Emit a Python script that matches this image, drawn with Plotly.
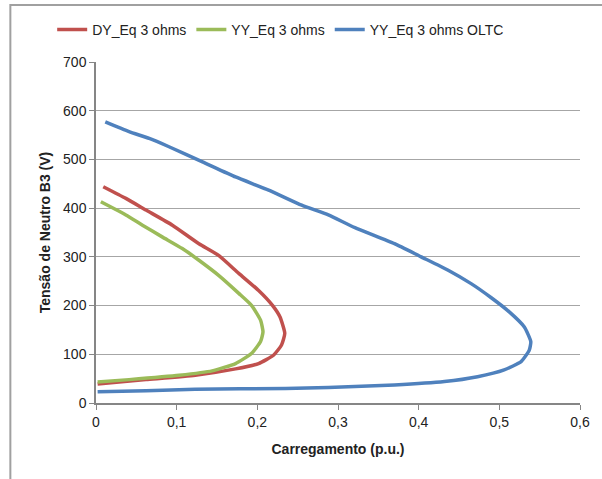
import plotly.graph_objects as go

# Series data (Carregamento p.u., Tensão V)
dy_x = [0.009, 0.037, 0.062, 0.0947, 0.1276, 0.152, 0.177, 0.2016, 0.219, 0.228, 0.234, 0.230, 0.220, 0.2016, 0.173, 0.123, 0.062, 0.002]
dy_y = [444, 420, 396, 365, 327, 303, 266, 231, 200, 177, 143, 119, 98, 81, 70, 57, 48, 39]

yy_x = [0.006, 0.037, 0.0576, 0.082, 0.107, 0.1276, 0.152, 0.177, 0.193, 0.204, 0.207, 0.204, 0.193, 0.173, 0.144, 0.103, 0.041, 0.002]
yy_y = [413, 386, 365, 341, 317, 293, 262, 225, 200, 170, 146, 126, 102, 81, 66, 57, 48, 43]

oltc_x = [0.0115, 0.041, 0.066, 0.0905, 0.132, 0.173, 0.214, 0.255, 0.288, 0.321, 0.37, 0.403, 0.436, 0.465, 0.49, 0.513, 0.531, 0.539, 0.537, 0.527, 0.506, 0.473, 0.432, 0.37, 0.288, 0.235, 0.123, 0.062, 0.002]
oltc_y = [577, 557, 543, 526, 495, 464, 437, 406, 386, 360, 327, 300, 273, 245, 216, 186, 156, 126, 108, 85, 68, 54, 44, 37, 32, 30, 28, 25, 23]

names = ["DY_Eq 3 ohms", "YY_Eq 3 ohms", "YY_Eq 3 ohms OLTC"]
colors = ["#C0504D", "#9BBB59", "#4F81BD"]

W, H = 602, 479
L, R, T, B = 96, 20, 62, 76

fig = go.Figure()
for xs, ys, n, c in zip([dy_x, yy_x, oltc_x], [dy_y, yy_y, oltc_y], names, colors):
    fig.add_trace(go.Scatter(x=xs, y=ys, mode="lines", name=n,
                             line=dict(color=c, width=3.5, shape="spline", smoothing=0.5)))

pw = W - L - R
ph = H - T - B

fig.update_layout(
    width=W, height=H,
    margin=dict(l=L, r=R, t=T, b=B),
    paper_bgcolor="white", plot_bgcolor="white",
    separators=",.",
    font=dict(family="Liberation Sans, Arial, sans-serif", size=14, color="#222222"),
    showlegend=True,
    legend=dict(orientation="h", x=(52 - L) / pw, xanchor="left",
                y=1 + (T - 14) / ph, yanchor="top",
                font=dict(size=14), bgcolor="rgba(0,0,0,0)", itemwidth=30,
                tracegroupgap=0),
    xaxis=dict(range=[0, 0.6], dtick=0.1, tick0=0, showgrid=False, zeroline=False,
               showline=True, linecolor="#868686", linewidth=1.5,
               ticks="outside", ticklen=5, tickcolor="#868686",
               title=dict(text="<b>Carregamento (p.u.)</b>", standoff=16,
                          font=dict(size=14))),
    yaxis=dict(range=[0, 700], dtick=100, tick0=0, showgrid=True, gridcolor="#A6A6A6",
               gridwidth=1, zeroline=False,
               showline=True, linecolor="#868686", linewidth=1.5,
               ticks="outside", ticklen=5, tickcolor="#868686",
               title=dict(text="<b>Tensão de Neutro B3 (V)</b>", standoff=9,
                          font=dict(size=14))),
)

# outer chart border drawn as a rectangle in pixel-based paper coordinates
bx = (10 - L) / pw
by_top = 1 + (T - 5) / ph
by_bot = 1 + (T - H - 10) / ph
bx_right = (W + 10 - L) / pw
fig.add_shape(type="rect", xref="paper", yref="paper", x0=bx, x1=bx_right, y0=by_bot, y1=by_top,
              line=dict(color="#A0A0A0", width=2), fillcolor="rgba(0,0,0,0)", layer="above")

fig.write_html("out.html", config={"displayModeBar": False},
               post_script="document.body.style.margin='0';document.body.style.overflow='hidden';")
